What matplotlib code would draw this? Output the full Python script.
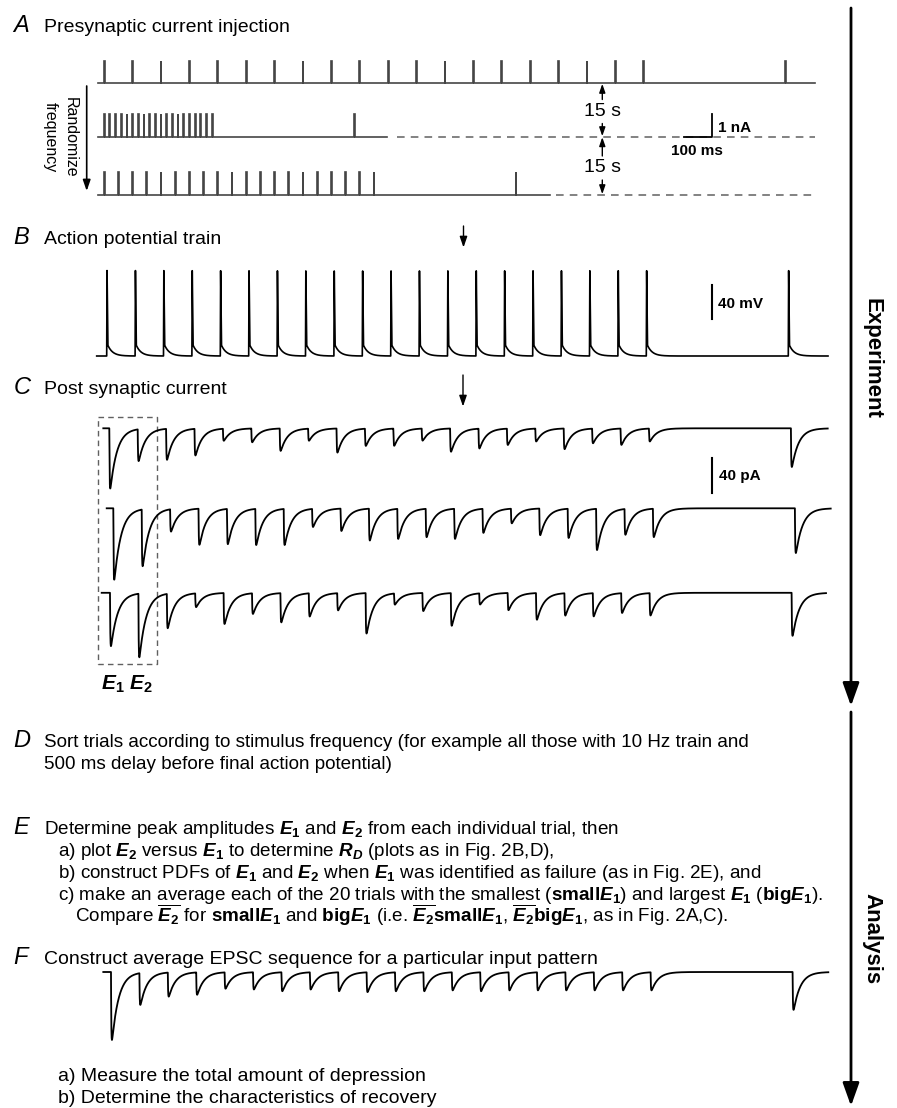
import numpy as np
import matplotlib
matplotlib.use("Agg")
import matplotlib.pyplot as plt

# ------------------------------------------------------------------ data
# A: presynaptic current pulses (ms), each pulse 1 nA
pulses_10hz_ms = [0, 100, 200, 300, 400, 500, 600, 700, 800, 900, 1000, 1100,
                  1200, 1300, 1400, 1500, 1600, 1700, 1800, 1900, 2400]
pulses_50hz_ms = [0, 20, 40, 60, 80, 100, 120, 140, 160, 180, 200, 220, 240,
                  260, 280, 300, 320, 340, 360, 380, 880]
pulses_20hz_ms = [0, 50, 100, 150, 200, 250, 300, 350, 400, 450, 500, 550, 600,
                  650, 700, 750, 800, 850, 900, 950, 1450]
pulse_amp_nA = 1.0
pulse_width_ms = 3.0

# B: action potentials (10 Hz train + final AP 500 ms later)
ap_times_ms = [0, 100, 200, 300, 400, 500, 600, 700, 800, 900, 1000, 1100,
               1200, 1300, 1400, 1500, 1600, 1700, 1800, 1900, 2400]
v_rest_mV = -70.0
ap_height_mV = 104.0
adp_mV = 13.0

# C: EPSC peak amplitudes (pA) for three individual trials
trial1_pA = [70, 37, 36, 31, 14, 16, 26, 14, 28, 20, 20, 14, 27, 23, 19, 15,
             24, 17, 19, 15, 45]
trial2_pA = [83, 66, 26, 42, 41, 42, 42, 21, 26, 37, 35, 33, 35, 28, 17, 31,
             34, 48, 30, 33, 52]
trial3_pA = [62, 74, 40, 16, 36, 24, 34, 27, 20, 47, 13, 21, 38, 13, 20, 31,
             26, 27, 23, 26, 50]
# F: average EPSC sequence (pA)
average_pA = [79, 37, 28, 26, 19, 20, 22, 20, 22, 23, 22, 22, 21, 22, 21, 21,
              21, 21, 21, 21, 44]
epsc_rise_ms, epsc_decay_ms = 1.0, 24.0

# ------------------------------------------------------------------ layout
W, H = 897, 1108
plt.rcParams["font.family"] = ["Liberation Sans", "DejaVu Sans"]
plt.rcParams["mathtext.fontset"] = "custom"
plt.rcParams["mathtext.rm"] = "Liberation Sans"
plt.rcParams["mathtext.it"] = "Liberation Sans:italic"
plt.rcParams["mathtext.bf"] = "Liberation Sans:bold"
plt.rcParams["mathtext.bfit"] = "Liberation Sans:italic:bold"

fig = plt.figure(figsize=(W / 100, H / 100), dpi=100)
bg = fig.add_axes([0, 0, 1, 1])
bg.set_xlim(0, W)
bg.set_ylim(H, 0)
bg.axis("off")

SX = 0.284  # px per ms


def px_axes(L, R, T, B, x0px, sy, y0px):
    """axes covering pixel box; data x=0 at x0px (SX px/ms), y=0 at y0px (sy px/unit, up)."""
    ax = fig.add_axes([L / W, 1 - B / H, (R - L) / W, (B - T) / H])
    ax.set_xlim((L - x0px) / SX, (R - x0px) / SX)
    ax.set_ylim((y0px - B) / sy, (y0px - T) / sy)
    ax.axis("off")
    return ax


def to_ms(px, x0px):
    return (px - x0px) / SX


def arrow(x, y1, y2, lw=1.0, ms=5, hl=1.3, hw=0.45):
    bg.annotate("", xy=(x, y2), xytext=(x, y1),
                arrowprops=dict(arrowstyle="-|>,head_length=%g,head_width=%g" % (hl, hw),
                                lw=lw, color="black", shrinkA=0, shrinkB=0,
                                mutation_scale=ms))


TXT = 14
TXT2 = 13.6
LET = 17

# ------------------------------------------------------------------ panel A
bg.text(13.5, 32, "A", fontsize=LET, style="italic", va="baseline")
bg.text(44, 32, "Presynaptic current injection", fontsize=TXT, va="baseline")

gray = "#454545"
rows = [  # pulses, baseline px, solid end px, dash start px
    (pulses_10hz_ms, 83.3, 815.0, None),
    (pulses_50hz_ms, 136.7, 386.7, 396.7),
    (pulses_20hz_ms, 194.7, 550.0, 556.0),
]
A_L, A_R, A_X0 = 97.7, 815.0, 103.8
axA = []
for times, base, s_end, d_start in rows:
    ax = px_axes(A_L, A_R, base - 30, base + 6, A_X0, 22.3, base)
    xs, ys = [to_ms(A_L, A_X0)], [0.0]
    for t in times:
        xs += [t, t, t + pulse_width_ms, t + pulse_width_ms]
        ys += [0, pulse_amp_nA, pulse_amp_nA, 0]
    xs.append(to_ms(s_end, A_X0))
    ys.append(0)
    ax.plot(xs, ys, color=gray, lw=1.2, clip_on=False, solid_joinstyle="miter")
    if d_start is not None:
        ax.plot([to_ms(d_start, A_X0), to_ms(A_R, A_X0)], [0, 0], color="#606060",
                lw=1.1, dashes=(5, 4), clip_on=False)
    axA.append(ax)

# scale bar 1 nA / 100 ms
sb_t = to_ms(712.3, A_X0)
axA[1].plot([sb_t - 100, sb_t, sb_t], [0, 0, 1.0], color="black", lw=1.3,
            clip_on=False)
bg.text(718, 131.5, "1 nA", fontsize=11, fontweight="bold", va="baseline")
bg.text(697, 155, "100 ms", fontsize=11, fontweight="bold", va="baseline",
        ha="center")

# 15 s arrows
for ytop, ybot, ytxt in [(83.3, 136.7, 111.5), (136.7, 194.7, 168)]:
    arrow(602.3, ytxt - 12, ytop + 0.5, ms=4)
    arrow(602.3, ytxt + 12, ybot - 0.5, ms=4)
    bg.text(602.3, ytxt, "15 s", fontsize=TXT, ha="center", va="center")

# randomize frequency arrow
arrow(86.7, 86, 191, lw=1.2, ms=5)
bg.text(60.5, 137, "Randomize\nfrequency", fontsize=11.5, rotation=270,
        ha="center", va="center", linespacing=1.45)

# ------------------------------------------------------------------ panel B
bg.text(13.5, 244, "B", fontsize=LET, style="italic", va="baseline")
bg.text(44, 244, "Action potential train", fontsize=TXT, va="baseline")
arrow(463.5, 226, 247.5, lw=1.0, ms=5)

B_X0, B_BASE, SY_MV = 106.7, 356.0, 0.833
axB = px_axes(96.7, 828, 262, 362, B_X0, SY_MV, B_BASE + v_rest_mV * SY_MV)
tB = np.linspace(to_ms(96.7, B_X0), to_ms(828, B_X0), 30000)
vB = np.full_like(tB, v_rest_mV)
for ts in ap_times_ms:
    d = tB - ts
    k = np.where(d < 0, 0.0,
                 np.where(d < 4.0, np.interp(d, [0, 1.2, 4.0], [0, ap_height_mV, adp_mV]),
                          adp_mV * np.exp(-(d - 4.0) / 17.0)))
    vB += k
axB.plot(tB, vB, color="black", lw=1.2, clip_on=False)
sbB = to_ms(711.7, B_X0)
axB.plot([sbB, sbB], [-25, 15], color="black", lw=1.5, clip_on=False)
bg.text(718.5, 308, "40 mV", fontsize=11, fontweight="bold", va="baseline")

# ------------------------------------------------------------------ panel C
bg.text(13.5, 394, "C", fontsize=LET, style="italic", va="baseline")
bg.text(44, 394, "Post synaptic current", fontsize=TXT, va="baseline")
arrow(463, 375, 406.5, lw=1.0, ms=5)

SY_PA = 0.86


def epsc(t, amps):
    tp = epsc_rise_ms * epsc_decay_ms / (epsc_decay_ms - epsc_rise_ms) * \
        np.log(epsc_decay_ms / epsc_rise_ms)
    norm = np.exp(-tp / epsc_decay_ms) - np.exp(-tp / epsc_rise_ms)
    y = np.zeros_like(t)
    for ts, a in zip(ap_times_ms, amps):
        d = np.clip(t - ts, 0, None)
        y -= a * (np.exp(-d / epsc_decay_ms) - np.exp(-d / epsc_rise_ms)) / norm
    return y


traces = [  # amps, first-event px, baseline px, start px, end px
    (trial1_pA, 109.3, 428.3, 103.3, 827.7),
    (trial2_pA, 113.3, 508.3, 106.7, 830.7),
    (trial3_pA, 110.0, 592.8, 101.7, 826.0),
]
axC = []
for amps, x0, base, s, e in traces:
    ax = px_axes(s, e, base - 12, base + 80, x0, SY_PA, base)
    t = np.linspace(to_ms(s, x0), to_ms(e, x0), 30000)
    ax.plot(t, epsc(t, amps), color="black", lw=1.3, clip_on=False)
    axC.append(ax)
sbC = to_ms(711.7, 109.3)
axC[0].plot([sbC, sbC], [-35, -75], color="black", lw=1.5, clip_on=False)
bg.text(719, 480, "40 pA", fontsize=11, fontweight="bold", va="baseline")

# dashed box + E1 E2
bg.plot([97.7, 156.7, 156.7, 97.7, 97.7], [417.3, 417.3, 664, 664, 417.3],
        color="#606060", lw=1.0, dashes=(4, 3))
bg.text(101, 690, r"$\mathbfit{E}_\mathbf{1}\ \mathbfit{E}_\mathbf{2}$",
        fontsize=15, va="baseline")

# ------------------------------------------------------------------ right arrows
arrow(851, 8, 706, lw=2.0, ms=10, hl=1.4, hw=0.5)
arrow(851, 712, 1106, lw=2.0, ms=10, hl=1.4, hw=0.5)
bg.text(872, 358, "Experiment", fontsize=16, fontweight="bold", rotation=270,
        ha="center", va="center")
bg.text(872, 939, "Analysis", fontsize=16, fontweight="bold", rotation=270,
        ha="center", va="center")

# ------------------------------------------------------------------ panel D
bg.text(13.5, 747, "D", fontsize=LET, style="italic", va="baseline")
bg.text(44, 747, "Sort trials according to stimulus frequency (for example all "
        "those with 10 Hz train and", fontsize=TXT2, va="baseline")
bg.text(44, 769, "500 ms delay before final action potential)", fontsize=TXT2,
        va="baseline")

# ------------------------------------------------------------------ panel E
E1 = r"$\mathbfit{E}_\mathbf{1}$"
E2 = r"$\mathbfit{E}_\mathbf{2}$"
E2b = r"$\overline{\mathbfit{E}_\mathbf{2}}$"
RD = r"$\mathbfit{R}_\mathbfit{D}$"
sm = r"$\mathbf{small}\mathbfit{E}_\mathbf{1}$"
bgE = r"$\mathbf{big}\mathbfit{E}_\mathbf{1}$"
bg.text(13.5, 834, "E", fontsize=LET, style="italic", va="baseline")
bg.text(44, 834, "Determine peak amplitudes " + E1 + " and " + E2 +
        " from each individual trial, then", fontsize=TXT2, va="baseline")
bg.text(58, 856, "a) plot " + E2 + " versus " + E1 + " to determine " + RD +
        " (plots as in Fig. 2B,D),", fontsize=TXT2, va="baseline")
bg.text(58, 878, "b) construct PDFs of " + E1 + " and " + E2 + " when " + E1 +
        " was identified as failure (as in Fig. 2E), and", fontsize=TXT2,
        va="baseline")
bg.text(58, 899.5, "c) make an average each of the 20 trials with the smallest (" +
        sm + ") and largest " + E1 + " (" + bgE + ").", fontsize=TXT2,
        va="baseline")
bg.text(75, 922.5, "Compare " + E2b + " for " + sm + " and " + bgE + " (i.e. " +
        E2b + sm + ", " + E2b + bgE + ", as in Fig. 2A,C).", fontsize=TXT2,
        va="baseline")

# ------------------------------------------------------------------ panel F
bg.text(13.5, 964, "F", fontsize=LET, style="italic", va="baseline")
bg.text(44, 964, "Construct average EPSC sequence for a particular input pattern",
        fontsize=TXT, va="baseline")
F_X0, F_BASE = 111.0, 972.0
axF = px_axes(103.3, 828.3, F_BASE - 12, F_BASE + 80, F_X0, SY_PA, F_BASE)
tF = np.linspace(to_ms(103.3, F_X0), to_ms(828.3, F_X0), 30000)
axF.plot(tF, epsc(tF, average_pA), color="black", lw=1.3, clip_on=False)
bg.text(58, 1081, "a) Measure the total amount of depression", fontsize=TXT,
        va="baseline")
bg.text(58, 1103, "b) Determine the characteristics of recovery", fontsize=TXT,
        va="baseline")

fig.savefig("out.png", dpi=100)
